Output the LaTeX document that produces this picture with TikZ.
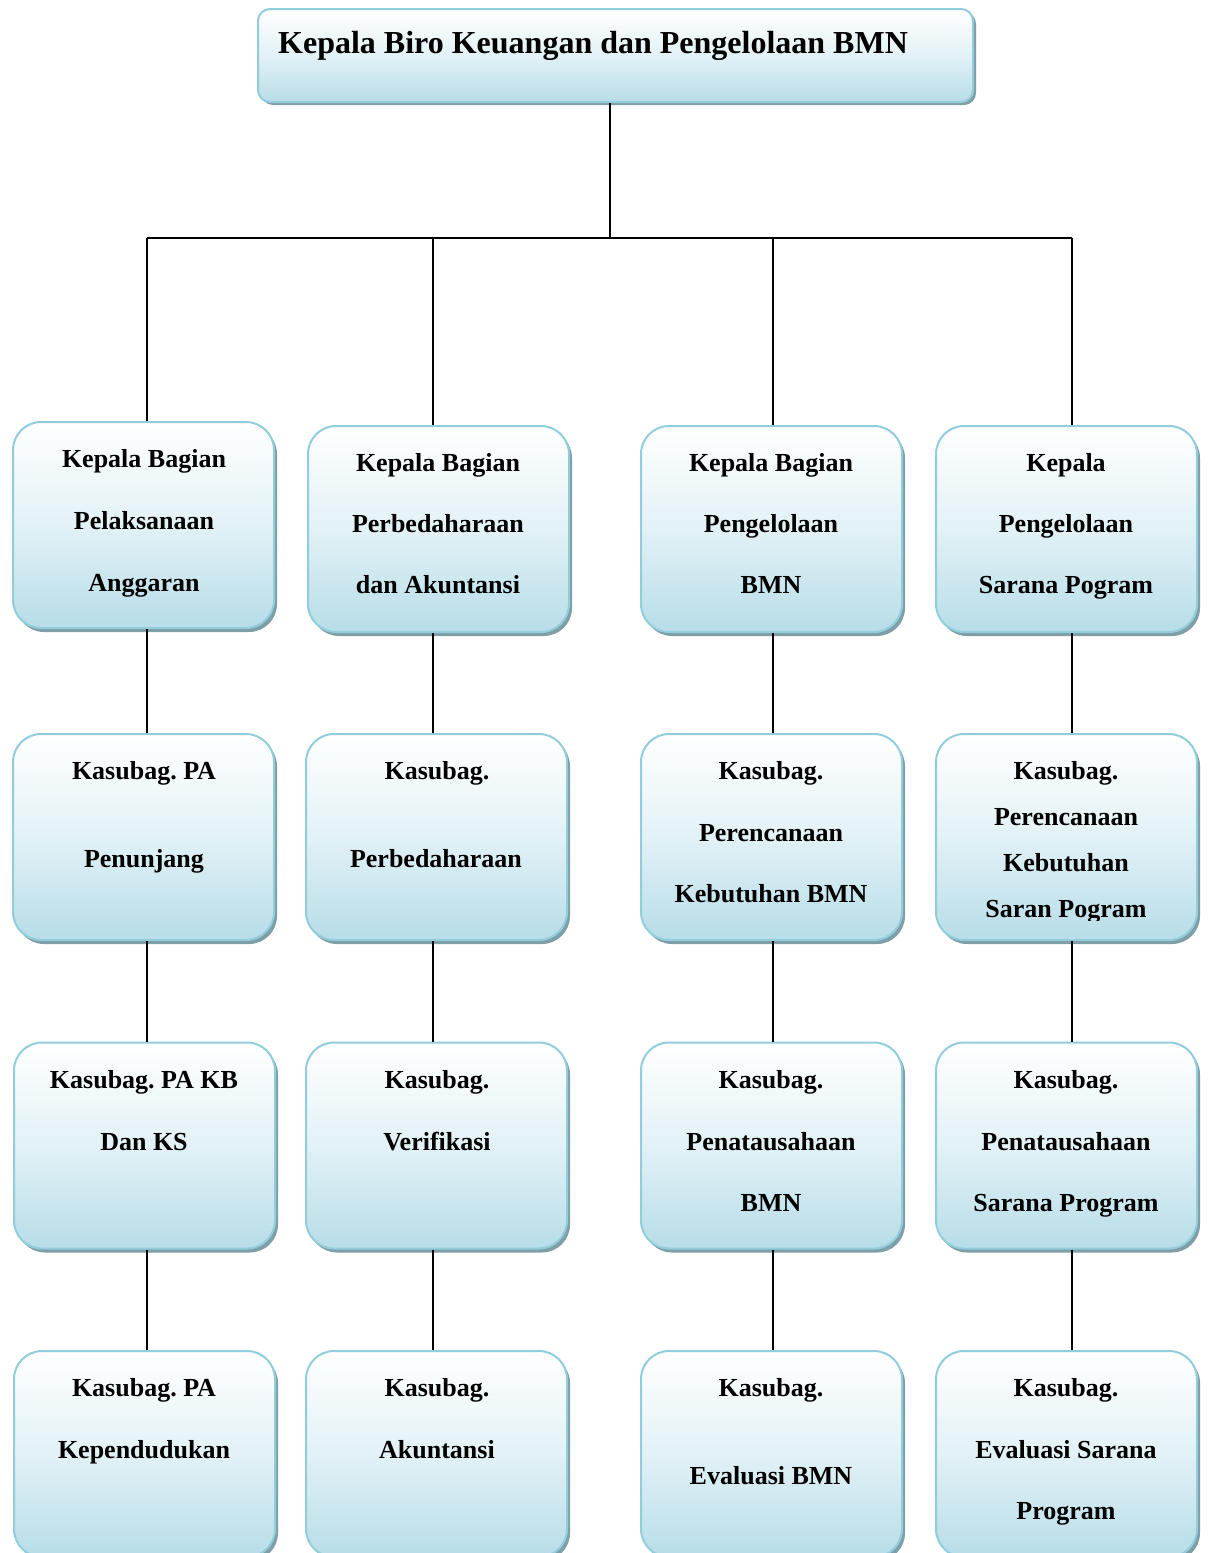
\documentclass[tikz,border=0pt]{standalone}
\usepackage{fontspec}
\setmainfont{Liberation Serif}
\usetikzlibrary{shadows}
\definecolor{boxblue}{HTML}{B7DDE8}
\definecolor{boxedge}{HTML}{92CDDC}
\definecolor{shadowc}{HTML}{7F9FA8}
\begin{document}
\frenchspacing
\begin{tikzpicture}[x=1pt,y=-1pt,
  orgbox/.style={draw=boxedge, line width=2pt, rounded corners=28pt,
    top color=white, bottom color=boxblue, middle color=boxblue!40,
    minimum width=261pt, minimum height=206pt, inner sep=0pt,
    drop shadow={shadow xshift=3pt, shadow yshift=-4pt, fill=shadowc, opacity=1}},
  topbox/.style={draw=boxedge, line width=2pt, rounded corners=12pt,
    top color=white, bottom color=boxblue, middle color=boxblue!40,
    minimum width=715pt, minimum height=93pt, inner sep=0pt,
    drop shadow={shadow xshift=3pt, shadow yshift=-3pt, fill=shadowc, opacity=1}},
  lbl/.style={anchor=base, inner sep=0pt, font=\fontsize{26}{31}\selectfont\bfseries\frenchspacing},
  conn/.style={draw=black, line width=2pt}]
\useasboundingbox (0,0) rectangle (1208,1553);

% top box
\node[topbox] (top) at (615.5,55.5) {};
\node[anchor=base west, inner sep=0pt, font=\fontsize{32}{38}\selectfont\bfseries] (toptxt) at (278,53) {Kepala Biro Keuangan dan Pengelolaan BMN};

% row 1
\node[orgbox] (r1c1) at (143.5,525) {};
\node[orgbox] (r1c2) at (438.5,529) {};
\node[orgbox] (r1c3) at (771.5,529) {};
\node[orgbox] (r1c4) at (1066.5,529) {};
% row 2
\node[orgbox] (r2c1) at (143.5,837) {};
\node[orgbox] (r2c2) at (436.5,837) {};
\node[orgbox] (r2c3) at (771.5,837) {};
\node[orgbox] (r2c4) at (1066.5,837) {};
% row 3
\node[orgbox] (r3c1) at (144.5,1145.5) {};
\node[orgbox] (r3c2) at (436.5,1145.5) {};
\node[orgbox] (r3c3) at (771.5,1145.5) {};
\node[orgbox] (r3c4) at (1066.5,1145.5) {};
% row 4
\node[orgbox] (r4c1) at (144.5,1454) {};
\node[orgbox] (r4c2) at (436.5,1454) {};
\node[orgbox] (r4c3) at (771.5,1454) {};
\node[orgbox] (r4c4) at (1066.5,1454) {};

% connectors
\coordinate (hub) at (610,238);
\coordinate (bus1) at (147,238);
\coordinate (bus2) at (433,238);
\coordinate (bus3) at (773,238);
\coordinate (bus4) at (1072,238);
\draw[conn] (top.south -| hub) -- (hub);
\draw[conn] (bus1) -- (bus4);
\draw[conn] (bus1) -- (bus1 |- r1c1.north);
\draw[conn] (bus2) -- (bus2 |- r1c2.north);
\draw[conn] (bus3) -- (bus3 |- r1c3.north);
\draw[conn] (bus4) -- (bus4 |- r1c4.north);
\draw[conn] (r1c1.south -| bus1) -- (r2c1.north -| bus1);
\draw[conn] (r1c2.south -| bus2) -- (r2c2.north -| bus2);
\draw[conn] (r1c3.south -| bus3) -- (r2c3.north -| bus3);
\draw[conn] (r1c4.south -| bus4) -- (r2c4.north -| bus4);
\draw[conn] (r2c1.south -| bus1) -- (r3c1.north -| bus1);
\draw[conn] (r2c2.south -| bus2) -- (r3c2.north -| bus2);
\draw[conn] (r2c3.south -| bus3) -- (r3c3.north -| bus3);
\draw[conn] (r2c4.south -| bus4) -- (r3c4.north -| bus4);
\draw[conn] (r3c1.south -| bus1) -- (r4c1.north -| bus1);
\draw[conn] (r3c2.south -| bus2) -- (r4c2.north -| bus2);
\draw[conn] (r3c3.south -| bus3) -- (r4c3.north -| bus3);
\draw[conn] (r3c4.south -| bus4) -- (r4c4.north -| bus4);

% row 1 texts
\node[lbl] (t11a) at (144,467) {Kepala Bagian};
\node[lbl] (t11b) at (144,529) {Pelaksanaan};
\node[lbl] (t11c) at (144,591) {Anggaran};
\node[lbl] (t12a) at (438,471) {Kepala Bagian};
\node[lbl] (t12b) at (438,532) {Perbedaharaan};
\node[lbl] (t12c) at (438,593) {dan Akuntansi};
\node[lbl] (t13a) at (771,471) {Kepala Bagian};
\node[lbl] (t13b) at (771,532) {Pengelolaan};
\node[lbl] (t13c) at (771,593) {BMN};
\node[lbl] (t14a) at (1066,471) {Kepala};
\node[lbl] (t14b) at (1066,532) {Pengelolaan};
\node[lbl] (t14c) at (1066,593) {Sarana Pogram};

% row 2 texts
\node[lbl] (t21a) at (144,779) {Kasubag. PA};
\node[lbl] (t21b) at (144,867) {Penunjang};
\node[lbl] (t22a) at (437,779) {Kasubag.};
\node[lbl] (t22b) at (436,867) {Perbedaharaan};
\node[lbl] (t23a) at (771,779) {Kasubag.};
\node[lbl] (t23b) at (771,841) {Perencanaan};
\node[lbl] (t23c) at (771,902) {Kebutuhan BMN};
\node[lbl] (t24a) at (1066,779) {Kasubag.};
\node[lbl] (t24b) at (1066,825) {Perencanaan};
\node[lbl] (t24c) at (1066,871) {Kebutuhan};
\begin{scope}
\clip (936,880) rectangle (1197,920);
\node[lbl] (t24d) at (1066,917) {Saran Pogram};
\end{scope}

% row 3 texts
\node[lbl] (t31a) at (144,1088) {Kasubag. PA KB};
\node[lbl] (t31b) at (144,1150) {Dan KS};
\node[lbl] (t32a) at (437,1088) {Kasubag.};
\node[lbl] (t32b) at (437,1150) {Verifikasi};
\node[lbl] (t33a) at (771,1088) {Kasubag.};
\node[lbl] (t33b) at (771,1150) {Penatausahaan};
\node[lbl] (t33c) at (771,1211) {BMN};
\node[lbl] (t34a) at (1066,1088) {Kasubag.};
\node[lbl] (t34b) at (1066,1150) {Penatausahaan};
\node[lbl] (t34c) at (1066,1211) {Sarana Program};

% row 4 texts
\node[lbl] (t41a) at (144,1396) {Kasubag. PA};
\node[lbl] (t41b) at (144,1458) {Kependudukan};
\node[lbl] (t42a) at (437,1396) {Kasubag.};
\node[lbl] (t42b) at (437,1458) {Akuntansi};
\node[lbl] (t43a) at (771,1396) {Kasubag.};
\node[lbl] (t43b) at (771,1484) {Evaluasi BMN};
\node[lbl] (t44a) at (1066,1396) {Kasubag.};
\node[lbl] (t44b) at (1066,1458) {Evaluasi Sarana};
\node[lbl] (t44c) at (1066,1519) {Program};
\end{tikzpicture}
\end{document}
